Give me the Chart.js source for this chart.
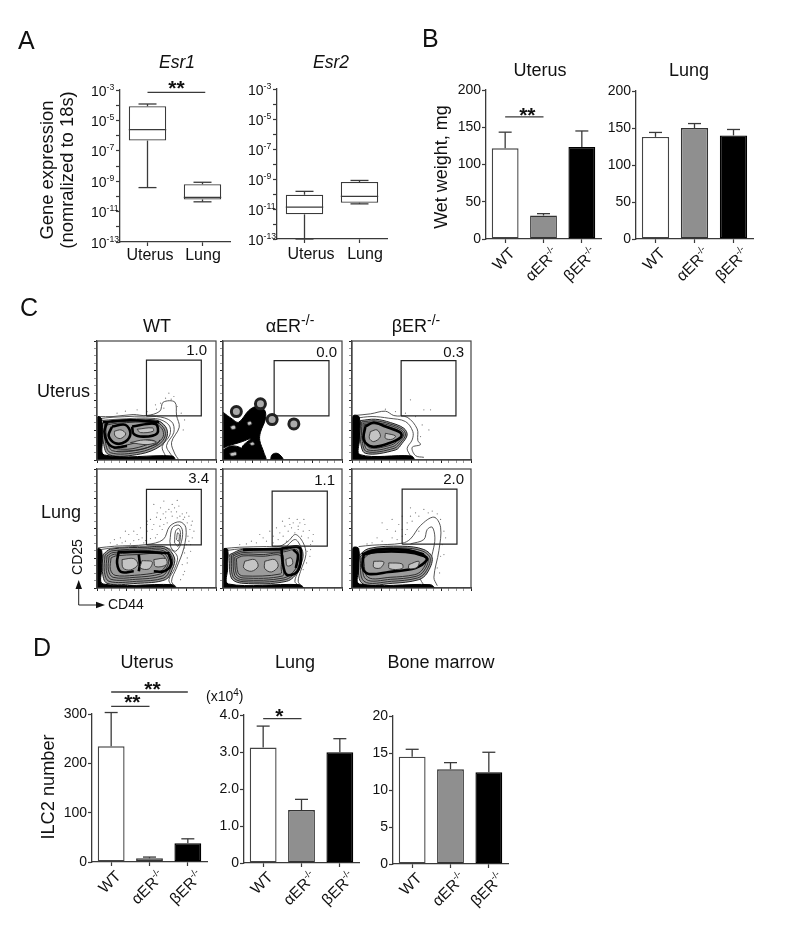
<!DOCTYPE html>
<html>
<head>
<meta charset="utf-8">
<script src="https://cdn.jsdelivr.net/npm/chart.js@4/dist/chart.umd.min.js"></script>
<style>
  html, body { margin: 0; padding: 0; background: #fff; }
  #page { position: relative; width: 791px; height: 936px; overflow: hidden; }
  #page canvas { position: absolute; }
  #page svg { position: absolute; left: 0; top: 0; }
  text { font-family: "Liberation Sans", Arial, sans-serif; fill: #111; }
</style>
</head>
<body>
<div id="page"></div>
<script>
// panel A - box plots
const tissues = ['Uterus', 'Lung'];
const logTickLabels = [-3, -5, -7, -9, -11, -13];
const esr1Low = [3.8e-10, 4.4e-11];
const esr1Q1 = [4.7e-7, 6.3e-11];
const esr1Median = [2.5e-6, 8.5e-11];
const esr1Q3 = [8.5e-5, 6.3e-10];
const esr1High = [1.2e-4, 8.5e-10];
const esr2Low = [1e-13, 2.2e-11];
const esr2Q1 = [4.4e-12, 2.6e-11];
const esr2Median = [1.35e-11, 6.9e-11];
const esr2Q3 = [8.9e-11, 6.3e-10];
const esr2High = [1.5e-10, 8e-10];

// panels B and D - bars with error bars
const genotypes = ['WT', 'αER-/-', 'βER-/-'];
const bUterusMean = [121.8, 31.5, 123.6];
const bUterusErr = [143.4, 34, 145];
const bLungMean = [138, 150, 140];
const bLungErr = [144, 156, 148];
const dUterusMean = [234.6, 7.4, 37.8];
const dUterusErr = [303, 10, 47];
const dLungMean = [3.12, 1.43, 2.99];
const dLungErr = [3.70, 1.72, 3.36];
const dMarrowMean = [14.5, 12.8, 12.4];
const dMarrowErr = [15.5, 13.7, 15.1];

const wtUterusDots = [[60,140],[85,146],[120,150],[150,145],[178,152],[190,170],[205,185],[222,182],[240,160],[252,140],[262,120],[175,165],[200,155],[230,190],[215,200],[258,90]];
const wtUterusLines = [
  [[3,130],[48,130],[108,136],[148,133],[188,146],[198,173],[233,173],[238,133],[246,98],[223,53],[233,18],[243,3]],
  [[3,123],[48,128],[178,130],[223,115],[230,83],[208,43],[223,13]],
  [[10,118],[60,122],[175,124],[215,105],[218,75],[195,40],[205,12]]
];
const wtUterusShade = [[[16,110],[60,118],[175,120],[205,100],[210,72],[190,42],[130,18],[35,16],[18,60],[16,110]]];
const wtUterusRings = [
  [[22,108],[60,114],[170,116],[198,98],[204,72],[184,46],[128,24],[40,22],[24,60],[22,108]],
  [[26,104],[60,110],[168,112],[194,94],[198,70],[178,50],[125,30],[46,28],[30,60],[26,104]],
  [[50,34],[90,32],[125,38],[172,56],[150,60],[110,50],[70,40],[50,34]],
  [[60,26],[120,30],[180,48],[188,60]]
];
const wtUterusBlack = [[[0,0],[232,0],[226,12],[22,15],[16,60],[14,122],[3,130],[0,120]]];
const wtUterusBands = [
  [[18,114],[100,119],[186,113]],
  [[30,112],[22,85],[30,55],[50,38],[90,42]],
  [[45,100],[85,105],[100,80],[85,55],[55,50],[35,72],[45,100]],
  [[105,100],[175,108],[180,80],[140,70],[110,78],[105,100]]
];
const wtUterusCores = [
  [[52,86],[72,90],[86,78],[70,64],[54,72],[52,86]],
  [[120,92],[166,96],[168,86],[130,82],[120,92]],
  [[100,52],[150,46],[178,54],[140,60],[100,52]]
];
const wtUterusGate = [148, 132, 312, 299];

const wtLungDots = [[60,130],[85,140],[110,142],[135,150],[160,148],[180,160],[195,175],[150,170],[170,190],[205,210],[190,205],[225,215],[240,210],[258,205],[270,195],[278,175],[272,155],[268,130],[262,105],[285,200],[160,205],[180,225],[215,235],[238,228],[255,222],[275,215],[140,135],[120,160],[95,160],[70,150],[290,170],[280,130],[270,90],[255,70],[262,50],[200,190],[210,195],[150,190],[165,175],[245,245],[225,250],[190,240],
  [40,135],[52,145],[75,135],[100,132],[125,145],[145,142],[175,150],[188,185],[178,212],[198,222],[206,228],[222,228],[232,240],[248,215],[262,212],[268,225],[282,188],[275,140],[280,110],[270,75],[258,40],[250,25],[262,120],[285,150],[150,200],[130,180],[110,170],[85,170],[170,250],[200,260],[240,262]];
const wtLungLines = [
  [[3,120],[53,125],[148,130],[198,145],[218,185],[248,198],[266,180],[260,120],[238,60],[223,20],[238,2]],
  [[218,140],[225,180],[245,188],[256,170],[250,130],[235,110],[222,120],[218,140]],
  [[232,135],[235,170],[245,178],[250,160],[243,125],[232,135]],
  [[238,145],[241,165],[246,160],[244,140],[238,145]],
  [[10,115],[60,121],[150,125],[210,120],[240,95],[232,58],[215,25],[222,8]]
];
const wtLungShade = [[[18,100],[40,116],[150,122],[205,122],[232,90],[225,55],[205,25],[120,14],[30,14],[16,50],[18,100]]];
const wtLungRings = [
  [[24,98],[44,111],[150,117],[202,117],[226,88],[219,56],[200,30],[118,20],[36,20],[22,50],[24,98]],
  [[30,96],[48,106],[150,112],[198,112],[220,86],[213,58],[195,36],[116,26],[42,26],[28,52],[30,96]],
  [[36,94],[52,101],[150,107],[195,107],[214,84],[208,60],[190,42],[114,32],[48,32],[34,54],[36,94]],
  [[42,90],[56,96],[120,100],[190,102],[208,82],[203,62],[185,48],[112,38],[54,38],[40,56],[42,90]]
];
const wtLungBlack = [[[0,0],[235,0],[225,10],[18,12],[14,60],[14,112],[3,118],[0,110]]];
const wtLungBands = [
  [[62,108],[130,108],[217,104]],
  [[65,108],[60,75],[72,48],[110,50]],
  [[125,100],[128,70],[125,50]],
  [[215,102],[222,70],[200,50],[170,50]]
];
const wtLungCores = [
  [[75,85],[110,88],[122,70],[100,54],[78,60],[75,85]],
  [[135,82],[165,78],[155,57],[130,60],[135,82]],
  [[170,85],[205,88],[208,70],[175,64],[170,85]]
];
const wtLungGate = [148, 129, 312, 295];

const aUterusBlack = [
  [[0,143],[27,123],[47,113],[77,148],[100,160],[124,150],[127,123],[112,83],[110,58],[122,23],[127,0],[62,0],[57,38],[82,63],[52,53],[17,43],[0,38],[0,143]],
  [[0,30],[25,42],[55,35],[70,10],[62,0],[0,0],[0,30]],
  [[142,0],[147,16],[162,20],[177,8],[179,0],[142,0]]
];
const aUterusCores = [
  [[22,100],[34,104],[38,94],[26,92],[22,100]],
  [[72,112],[82,116],[86,108],[76,104],[72,112]],
  [[80,50],[90,54],[94,46],[84,44],[80,50]],
  [[20,20],[38,24],[40,15],[24,12],[20,20]]
];
const aUterusSpots = [[40,145],[112,168],[147,121],[212,108]];
const aUterusGate = [153, 132, 317, 297];

const bUterusDots = [[100,152],[130,145],[160,140],[190,130],[210,105],[215,150],[230,90],[205,70],[175,180],[235,150]];
const bUterusLines = [
  [[5,133],[55,138],[100,146],[125,133],[165,128],[195,93],[197,58],[205,46],[180,38],[190,13],[215,8]],
  [[10,125],[60,130],[110,125],[160,115],[182,85],[180,60],[165,35],[175,12]]
];
const bUterusShade = [[[25,118],[70,122],[115,112],[155,95],[165,75],[150,50],[130,30],[40,20],[25,60],[25,118]]];
const bUterusRings = [
  [[29,114],[70,117],[113,108],[151,92],[160,75],[146,53],[126,35],[44,25],[30,60],[29,114]],
  [[33,110],[70,112],[111,104],[147,89],[155,75],[142,56],[122,40],[48,30],[35,60],[33,110]],
  [[37,106],[68,108],[108,100],[143,86],[150,74],[138,59],[118,45],[54,36],[39,60],[37,106]]
];
const bUterusBlack = [[[0,0],[185,0],[178,12],[24,16],[22,60],[22,128],[6,134],[0,125]]];
const bUterusBands = [[[40,100],[65,112],[100,100],[145,82],[146,68],[110,50],[60,40],[35,60],[40,100]]];
const bUterusCores = [
  [[55,85],[75,90],[85,70],[65,55],[52,65],[55,85]],
  [[100,80],[130,72],[120,62],[100,65],[100,80]]
];
const bUterusGate = [147, 132, 311, 297];

const aLungDots = [[150,135],[165,145],[180,155],[195,170],[205,180],[225,185],[240,170],[255,150],[262,130],[252,110],[210,195],[230,195],[245,190],[190,140],[215,165],[235,155],[170,165],[150,155],[130,140],[100,135],[70,132],[260,95],[250,75],[240,55],[270,160],[200,190],[225,175],
  [120,150],[140,170],[160,180],[185,185],[178,200],[198,208],[222,205],[242,205],[258,172],[268,140],[50,130],[85,140],[110,160],[262,115]];
const aLungLines = [
  [[3,118],[50,122],[130,124],[170,125],[195,140],[217,160],[240,135],[248,100],[232,50],[225,20],[235,5]],
  [[10,112],[60,118],[180,120],[215,145],[232,125],[240,95],[225,50],[215,20],[225,8]]
];
const aLungShade = [[[20,100],[60,116],[180,118],[228,125],[235,90],[225,50],[190,20],[60,14],[25,30],[20,100]]];
const aLungRings = [
  [[25,98],[60,111],[180,113],[224,120],[230,90],[220,52],[186,25],[60,19],[30,34],[25,98]],
  [[30,96],[60,106],[180,108],[220,115],[225,90],[215,54],[182,30],[60,24],[35,38],[30,96]],
  [[35,92],[60,101],[120,100],[176,102],[180,60],[178,36],[60,30],[40,42],[35,92]],
  [[40,88],[60,96],[120,95],[172,97],[174,60],[172,42],[60,36],[45,46],[40,88]]
];
const aLungBlack = [[[0,0],[240,0],[228,10],[16,12],[14,60],[14,115],[3,118],[0,110]]];
const aLungBands = [
  [[175,118],[228,122],[234,90],[222,48],[190,40],[178,80],[175,118]],
  [[210,115],[224,100],[218,60]],
  [[60,114],[120,116],[180,117]]
];
const aLungCores = [
  [[65,80],[95,85],[105,65],[85,50],[62,60],[65,80]],
  [[125,80],[155,85],[165,65],[145,48],[125,58],[125,80]],
  [[188,86],[204,90],[208,72],[192,66],[188,86]]
];
const aLungGate = [147, 125, 312, 290];

const bLungDots = [[60,135],[90,140],[120,150],[150,155],[165,175],[140,190],[120,205],[180,200],[190,225],[215,235],[240,230],[265,205],[275,170],[270,130],[265,95],[255,60],[160,160],[130,170],[200,170],[150,215],[175,240],[105,175],[90,195],
  [45,132],[75,150],[135,145],[150,175],[165,195],[175,215],[200,215],[228,225],[255,222],[280,150],[275,100],[262,45]];
const bLungLines = [
  [[20,124],[60,128],[150,134],[175,147],[205,187],[245,212],[265,182],[260,112],[245,32],[255,7]],
  [[175,132],[215,145],[225,175],[240,182],[248,150],[242,110],[230,70],[205,30],[215,8]]
];
const bLungShade = [[[18,95],[50,118],[150,125],[215,115],[240,90],[225,45],[200,25],[120,14],[30,14],[18,95]]];
const bLungRings = [
  [[24,93],[52,113],[150,120],[212,110],[234,88],[220,48],[196,30],[118,20],[36,20],[24,93]],
  [[29,91],[54,108],[150,115],[208,105],[228,86],[215,51],[192,35],[116,26],[42,26],[29,91]],
  [[34,88],[56,103],[150,110],[204,100],[222,84],[210,54],[188,40],[114,32],[48,32],[34,88]]
];
const bLungBlack = [[[0,0],[245,0],[235,10],[22,12],[20,60],[20,118],[5,122],[0,110]]];
const bLungBands = [
  [[30,100],[70,114],[160,114],[215,100]],
  [[35,100],[70,108],[160,108],[215,96],[225,85],[190,60],[110,48],[50,42],[32,60],[35,100]]
];
const bLungCores = [
  [[65,80],[95,78],[85,60],[65,62],[65,80]],
  [[110,75],[150,72],[150,58],[112,58],[110,75]],
  [[170,70],[200,80],[195,62],[170,58],[170,70]]
];
const bLungGate = [150, 131, 314, 296];

const page = document.getElementById('page');
const FONT = '"Liberation Sans", Arial, sans-serif';
const LINE = '#3a3a3a';
const barColors = ['#ffffff', '#8f8f8f', '#000000'];
const barEdges = ['#444444', '#333333', '#000000'];

function addCanvas(left, top, w, h) {
    const c = document.createElement('canvas');
    c.width = w;
    c.height = h;
    c.style.left = left + 'px';
    c.style.top = top + 'px';
    c.style.width = w + 'px';
    c.style.height = h + 'px';
    page.appendChild(c);
    return c;
}

// draws "10-3" or "αER-/-" with the tail raised
function richText(ctx, str, x, y, size, align, angle) {
    const m = str.match(/^(.*?)(-\/-|-\d+)$/);
    const base = m ? m[1] : str;
    const sup = m ? m[2] : '';
    const supSize = size * 0.62;
    ctx.save();
    ctx.translate(x, y);
    if (angle) ctx.rotate(angle);
    ctx.fillStyle = '#111';
    ctx.textBaseline = 'alphabetic';
    ctx.textAlign = 'left';
    ctx.font = size + 'px ' + FONT;
    const w1 = ctx.measureText(base).width;
    ctx.font = supSize + 'px ' + FONT;
    const w2 = sup ? ctx.measureText(sup).width : 0;
    const start = align === 'left' ? 0 : -(w1 + w2) / 2;
    ctx.font = size + 'px ' + FONT;
    ctx.fillText(base, start, 0);
    if (sup) {
        ctx.font = supSize + 'px ' + FONT;
        ctx.fillText(sup, start + w1, -size * 0.42);
    }
    ctx.restore();
}

function richWidth(ctx, str, size) {
    const m = str.match(/^(.*?)(-\/-|-\d+)$/);
    ctx.font = size + 'px ' + FONT;
    let w = ctx.measureText(m ? m[1] : str).width;
    if (m) {
        ctx.font = (size * 0.62) + 'px ' + FONT;
        w += ctx.measureText(m[2]).width;
    }
    return w;
}

// whiskers, medians, tick labels and significance bars, all through the chart scales
const panelMarks = {
    id: 'panelMarks',
    afterDatasetsDraw(chart, args, opts) {
        const ctx = chart.ctx;
        const x = chart.scales.x, y = chart.scales.y;
        ctx.save();
        ctx.strokeStyle = LINE;
        ctx.lineWidth = 1.3;
        const seg = (x1, y1, x2, y2) => {
            ctx.beginPath();
            ctx.moveTo(x1, y1);
            ctx.lineTo(x2, y2);
            ctx.stroke();
        };
        (opts.whiskers || []).forEach(w => {
            w.to.forEach((v, i) => {
                const px = x.getPixelForValue(i);
                seg(px, y.getPixelForValue(w.from[i]), px, y.getPixelForValue(v));
                seg(px - opts.cap, y.getPixelForValue(v), px + opts.cap, y.getPixelForValue(v));
            });
        });
        (opts.medians || []).forEach((v, i) => {
            const px = x.getPixelForValue(i);
            const bar = chart.getDatasetMeta(0).data[i];
            seg(px - bar.width / 2, y.getPixelForValue(v), px + bar.width / 2, y.getPixelForValue(v));
        });
        (opts.sig || []).forEach(s => {
            const py = y.getPixelForValue(s.y);
            const p1 = x.getPixelForValue(s.from), p2 = x.getPixelForValue(s.to);
            seg(p1, py, p2, py);
            ctx.fillStyle = '#111';
            ctx.font = 'bold 21px ' + FONT;
            ctx.textAlign = 'center';
            ctx.textBaseline = 'alphabetic';
            ctx.fillText(s.text, (p1 + p2) / 2 + s.dx, py + s.dy);
        });
        (opts.logLabels || []).forEach(e => {
            richText(ctx, '10' + e, y.left + y.width - 29, y.getPixelForValue(Math.pow(10, e)) + 5.5, 14, 'left');
        });
        (opts.rotated || []).forEach((t, i) => {
            const w = richWidth(ctx, t, 15.5);
            const cy = y.bottom + 11 + w * 0.354;
            const cx = x.getPixelForValue(i) - 2;
            // centre the rotated text on its tick
            richText(ctx, t, cx + 4, cy + 4, 15.5, 'center', -Math.PI / 4);
        });
        ctx.restore();
    }
};

function axisOptions(L, B) {
    return {
        x: {
            offset: true,
            grid: { offset: false, drawOnChartArea: false, tickLength: 4, tickColor: LINE, tickWidth: 1.2 },
            border: { color: LINE, width: 1.3 },
            ticks: { display: false },
            afterFit: s => { s.height = B; }
        },
        y: {
            grid: { drawOnChartArea: false, tickLength: 4, tickColor: LINE, tickWidth: 1.2 },
            border: { color: LINE, width: 1.3 },
            afterFit: s => { s.width = L; }
        }
    };
}

function plotPanel(rect, datasets, labels, yOptions, marks) {
    const L = 42, T = 40, R = 10, B = 50;
    const c = addCanvas(rect[0] - L, rect[1] - T, rect[2] - rect[0] + L + R, rect[3] - rect[1] + T + B);
    const scales = axisOptions(L, B);
    Object.assign(scales.y, yOptions);
    return new Chart(c.getContext('2d'), {
        type: 'bar',
        data: { labels: labels, datasets: datasets },
        options: {
            responsive: false,
            animation: false,
            layout: { autoPadding: false, padding: { top: T, right: R } },
            plugins: { legend: { display: false }, tooltip: { enabled: false }, panelMarks: marks },
            scales: scales
        },
        plugins: [panelMarks]
    });
}

function boxPanel(rect, q1, q3, low, median, high, sig) {
    const yOptions = {
        type: 'logarithmic',
        min: 1e-13,
        max: 1e-3,
        ticks: { display: false },
        afterBuildTicks: s => {
            s.ticks = [-13, -12, -11, -10, -9, -8, -7, -6, -5, -4, -3].map(e => ({ value: Math.pow(10, e) }));
        }
    };
    return plotPanel(rect, [{
        data: q1.map((v, i) => [v, q3[i]]),
        backgroundColor: '#ffffff',
        borderColor: LINE,
        borderWidth: 1.3,
        borderSkipped: false,
        barPercentage: 0.68,
        categoryPercentage: 1
    }], tissues, yOptions, {
        cap: 9,
        whiskers: [{ from: q3, to: high }, { from: q1, to: low }],
        medians: median,
        logLabels: logTickLabels,
        sig: sig
    });
}

function barPanel(rect, means, errs, max, step, sig, fmt) {
    const yOptions = {
        min: 0,
        max: max,
        ticks: {
            stepSize: step,
            padding: 1,
            color: '#111',
            font: { family: FONT, size: 14 },
            callback: fmt || (v => v)
        }
    };
    return plotPanel(rect, [{
        data: means,
        backgroundColor: barColors,
        borderColor: barEdges,
        borderWidth: 1.4,
        borderSkipped: false,
        barPercentage: 0.7,
        categoryPercentage: 1
    }], genotypes, yOptions, {
        cap: 6.5,
        whiskers: [{ from: means, to: errs }],
        rotated: genotypes,
        sig: sig
    });
}

function toPoints(poly) {
    return poly.map(p => ({ x: p[0], y: p[1] }));
}

function flowPanel(left, top, parts) {
    const sets = [];
    const line = (poly, color, width, fillColor) => {
        sets.push({
            data: toPoints(poly),
            showLine: true,
            tension: 0.35,
            pointRadius: 0,
            borderColor: color,
            borderWidth: width,
            backgroundColor: fillColor || 'transparent',
            fill: fillColor ? 'shape' : false
        });
    };
    if (parts.dots) {
        sets.push({ data: toPoints(parts.dots), pointRadius: 0.6, pointBackgroundColor: '#777', pointBorderWidth: 0, showLine: false });
    }
    (parts.lines || []).forEach(p => line(p, '#444', 0.9));
    (parts.shade || []).forEach(p => line(p, '#222', 1, '#9c9c9c'));
    (parts.rings || []).forEach(p => line(p, '#222', 0.9));
    (parts.black || []).forEach(p => line(p, '#000', 1, '#000'));
    (parts.bands || []).forEach(p => line(p, '#000', 2.6));
    (parts.cores || []).forEach(p => line(p, '#333', 0.9, '#c4c4c4'));
    if (parts.spots) {
        sets.push({ data: toPoints(parts.spots), pointRadius: 5, pointBackgroundColor: '#aaa', pointBorderColor: '#222', pointBorderWidth: 3, showLine: false });
    }
    const g = parts.gate;
    sets.push({
        data: toPoints([[g[0], g[1]], [g[2], g[1]], [g[2], g[3]], [g[0], g[3]], [g[0], g[1]]]),
        showLine: true,
        pointRadius: 0,
        borderColor: '#222',
        borderWidth: 1.2
    });
    sets.reverse(); // first dataset is painted last

    const size = 119, m = 4;
    const c = addCanvas(left - m, top - 1, size + m + 1, size + m + 1);
    const axis = (afterFit) => ({
        type: 'linear',
        min: 0,
        max: 356,
        ticks: { display: false, stepSize: 22.25 },
        grid: {
            drawOnChartArea: false,
            tickLength: 3,
            tickWidth: 1,
            tickColor: ctx => (ctx.tick && ctx.tick.value % 89 === 0) ? '#222' : '#999'
        },
        border: { color: '#444', width: 1.2 },
        afterFit: afterFit
    });
    return new Chart(c.getContext('2d'), {
        type: 'scatter',
        data: { datasets: sets },
        options: {
            responsive: false,
            animation: false,
            layout: { autoPadding: false, padding: { top: 1, right: 1 } },
            plugins: { legend: { display: false }, tooltip: { enabled: false }, filler: { drawTime: 'beforeDatasetDraw' } },
            scales: { x: axis(s => { s.height = m; }), y: axis(s => { s.width = m; }) }
        },
        plugins: [{
            id: 'frame',
            afterDraw(chart) {
                const a = chart.chartArea;
                chart.ctx.strokeStyle = '#444';
                chart.ctx.lineWidth = 1.2;
                chart.ctx.strokeRect(a.left, a.top, a.right - a.left, a.bottom - a.top);
            }
        }]
    });
}

// A
boxPanel([120, 90, 230, 242], esr1Q1, esr1Q3, esr1Low, esr1Median, esr1High, [{ from: 0, to: 1.05, y: 7e-4, text: '**', dx: 0, dy: 3 }]);
boxPanel([277, 89, 387, 239], esr2Q1, esr2Q3, esr2Low, esr2Median, esr2High, []);

// B
barPanel([486, 90, 601, 239], bUterusMean, bUterusErr, 200, 50, [{ from: 0, to: 1, y: 164, text: '**', dx: 3, dy: 5 }]);
barPanel([636, 91, 753, 239], bLungMean, bLungErr, 200, 50, []);

// C
flowPanel(97, 341, { dots: wtUterusDots, lines: wtUterusLines, shade: wtUterusShade, rings: wtUterusRings, black: wtUterusBlack, bands: wtUterusBands, cores: wtUterusCores, gate: wtUterusGate });
flowPanel(223, 341, { black: aUterusBlack, cores: aUterusCores, spots: aUterusSpots, gate: aUterusGate });
flowPanel(352, 341, { dots: bUterusDots, lines: bUterusLines, shade: bUterusShade, rings: bUterusRings, black: bUterusBlack, bands: bUterusBands, cores: bUterusCores, gate: bUterusGate });
flowPanel(97, 469, { dots: wtLungDots, lines: wtLungLines, shade: wtLungShade, rings: wtLungRings, black: wtLungBlack, bands: wtLungBands, cores: wtLungCores, gate: wtLungGate });
flowPanel(223, 469, { dots: aLungDots, lines: aLungLines, shade: aLungShade, rings: aLungRings, black: aLungBlack, bands: aLungBands, cores: aLungCores, gate: aLungGate });
flowPanel(352, 469, { dots: bLungDots, lines: bLungLines, shade: bLungShade, rings: bLungRings, black: bLungBlack, bands: bLungBands, cores: bLungCores, gate: bLungGate });

// D
barPanel([92, 714, 207, 862], dUterusMean, dUterusErr, 300, 100, [
    { from: 0, to: 1, y: 315.6, text: '**', dx: 2, dy: 3 },
    { from: 0, to: 2, y: 344.6, text: '**', dx: 3, dy: 4 }
]);
barPanel([244, 715, 359, 863], dLungMean, dLungErr, 4, 1, [{ from: 0, to: 1, y: 3.9, text: '*', dx: -3, dy: 4 }], v => v === 0 ? '0' : v.toFixed(1));
barPanel([393, 716, 508, 864], dMarrowMean, dMarrowErr, 20, 5, []);

// everything that is not tied to an axis
page.insertAdjacentHTML('beforeend', `
<svg width="791" height="936" xmlns="http://www.w3.org/2000/svg">
  <text x="18" y="49" font-size="25">A</text>
  <text x="422" y="47" font-size="25">B</text>
  <text x="20" y="316" font-size="25">C</text>
  <text x="33" y="656" font-size="25">D</text>

  <text x="177" y="68" font-size="17.5" font-style="italic" text-anchor="middle">Esr1</text>
  <text x="331" y="68" font-size="17.5" font-style="italic" text-anchor="middle">Esr2</text>
  <text transform="translate(53,170) rotate(-90)" font-size="18.4" text-anchor="middle">Gene expression</text>
  <text transform="translate(73,170) rotate(-90)" font-size="18.4" text-anchor="middle">(nomralized to 18s)</text>
  <text x="150" y="260" font-size="16" text-anchor="middle">Uterus</text>
  <text x="203" y="260" font-size="16" text-anchor="middle">Lung</text>
  <text x="311" y="259" font-size="16" text-anchor="middle">Uterus</text>
  <text x="365" y="259" font-size="16" text-anchor="middle">Lung</text>

  <text x="540" y="76" font-size="18" text-anchor="middle">Uterus</text>
  <text x="689" y="76" font-size="18" text-anchor="middle">Lung</text>
  <text transform="translate(447,167) rotate(-90)" font-size="18" text-anchor="middle">Wet weight, mg</text>

  <text x="157" y="332" font-size="18" text-anchor="middle">WT</text>
  <text x="290" y="332" font-size="18" text-anchor="middle">αER<tspan dy="-7" font-size="14">-/-</tspan></text>
  <text x="416" y="332" font-size="18" text-anchor="middle">βER<tspan dy="-7" font-size="14">-/-</tspan></text>
  <text x="37" y="397" font-size="18">Uterus</text>
  <text x="41" y="518" font-size="18">Lung</text>
  <text x="207" y="355" font-size="15" text-anchor="end">1.0</text>
  <text x="337" y="357" font-size="15" text-anchor="end">0.0</text>
  <text x="464" y="357" font-size="15" text-anchor="end">0.3</text>
  <text x="209" y="483" font-size="15" text-anchor="end">3.4</text>
  <text x="335" y="485" font-size="15" text-anchor="end">1.1</text>
  <text x="464" y="484" font-size="15" text-anchor="end">2.0</text>
  <text transform="translate(82,557) rotate(-90)" font-size="14" text-anchor="middle">CD25</text>
  <text x="108" y="609" font-size="14">CD44</text>
  <path d="M78.7 588 V605 H97" fill="none" stroke="#222" stroke-width="1"/>
  <path d="M78.7 580 L75.5 589 H82 Z M105 605 L96 601.8 V608.2 Z" fill="#111"/>

  <text x="147" y="668" font-size="18" text-anchor="middle">Uterus</text>
  <text x="295" y="668" font-size="18" text-anchor="middle">Lung</text>
  <text x="441" y="668" font-size="18" text-anchor="middle">Bone marrow</text>
  <text x="206" y="701" font-size="14">(x10<tspan dy="-5" font-size="10">4</tspan><tspan dy="5">)</tspan></text>
  <text transform="translate(54,787) rotate(-90)" font-size="18.2" text-anchor="middle">ILC2 number</text>
</svg>`);
</script>
</body>
</html>
